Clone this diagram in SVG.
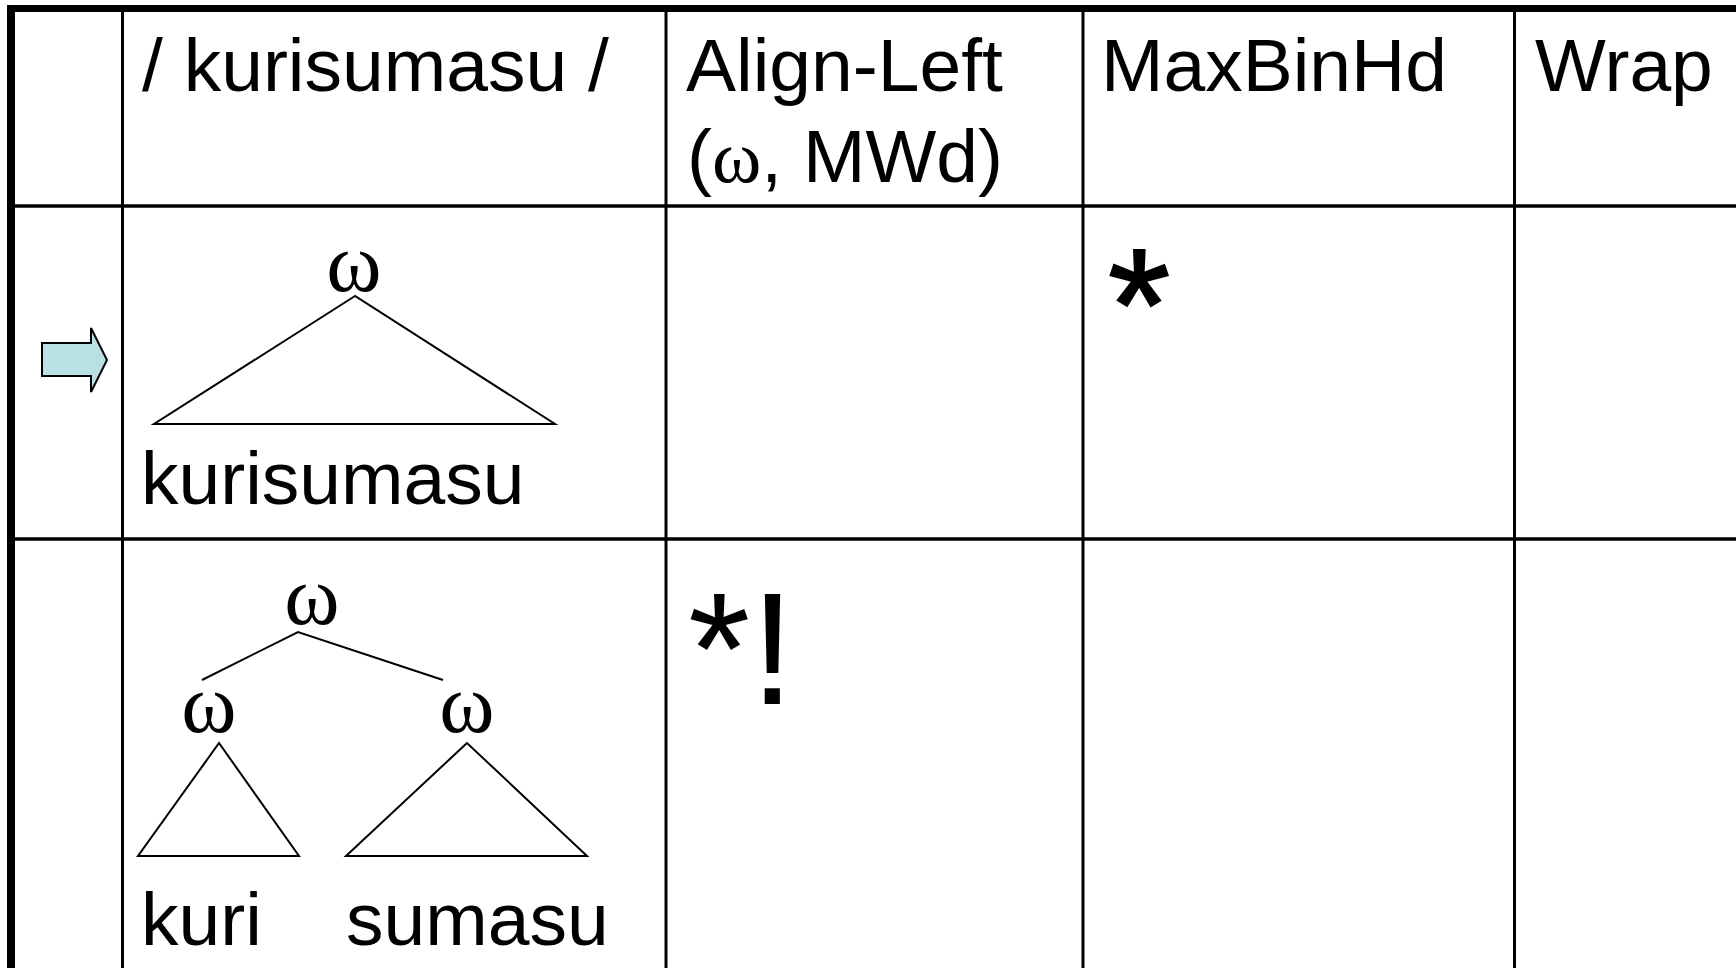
<svg xmlns="http://www.w3.org/2000/svg" width="1736" height="968" viewBox="0 0 1736 968">
<style>
.t{font-family:"Liberation Sans",Arial,sans-serif;font-size:75px;fill:#000}
.w{font-family:"Liberation Serif","Times New Roman",serif;font-size:84px;fill:#000;text-anchor:middle}
.wi{font-family:"Liberation Serif","Times New Roman",serif}
.big{font-family:"Liberation Sans",Arial,sans-serif;font-size:160px;fill:#000}
.grid{stroke:#000;fill:none}
.tree{stroke:#000;stroke-width:2;fill:none}
</style>
<rect width="1736" height="968" fill="#fff"/>
<g id="grid">
<line class="grid" x1="666" y1="8" x2="666" y2="968" stroke-width="3"/>
<line class="grid" x1="1083" y1="8" x2="1083" y2="968" stroke-width="3"/>
<line class="grid" x1="1514.5" y1="8" x2="1514.5" y2="968" stroke-width="3"/>
<line class="grid" x1="122.5" y1="8" x2="122.5" y2="968" stroke-width="3"/>
<line class="grid" x1="11" y1="206" x2="1736" y2="206" stroke-width="3.5"/>
<line class="grid" x1="11" y1="539" x2="1736" y2="539" stroke-width="3.5"/>
<line class="grid" x1="11" y1="5" x2="11" y2="968" stroke-width="8"/>
<line class="grid" x1="7" y1="8.5" x2="1736" y2="8.5" stroke-width="7"/>
</g>
<g id="header">
<text class="t" x="142" y="91">/ kurisumasu /</text>
<text class="t" x="686" y="91">Align-Left</text>
<text class="t" x="687" y="182">(<tspan class="wi">ω</tspan>, MWd)</text>
<text class="t" x="1101" y="91">MaxBinHd</text>
<text class="t" x="1535" y="91">Wrap</text>
</g>
<g id="winner-arrow">
<polygon points="42,343 91,343 91,328 107,360 91,392 91,376 42,376" fill="#b9e1e4" stroke="#000" stroke-width="2"/>
</g>
<g id="cand1">
<text class="w" x="354" y="291">ω</text>
<text class="t" x="141" y="504">kurisumasu</text>
</g>
<g id="cand1-marks">
<text class="big" x="1108" y="360" font-size="140" stroke="#000" stroke-width="2">*</text>
</g>
<g id="cand2">
<text class="w" x="312" y="624">ω</text>
<text class="w" x="209" y="732">ω</text>
<text class="w" x="467" y="732">ω</text>
<text class="t" x="141" y="945">kuri</text>
<text class="t" x="346" y="945">sumasu</text>
</g>
<g id="cand2-marks">
<text class="big" x="688" y="704">*!</text>
</g>
<g id="connectors">
<polygon class="tree" points="355,296 154,424 555,424"/>
<polyline class="tree" points="202,680 298,632 443,680"/>
<polygon class="tree" points="219,743 138,856 299,856"/>
<polygon class="tree" points="467,743 346,856 587,856"/>
</g>
</svg>
